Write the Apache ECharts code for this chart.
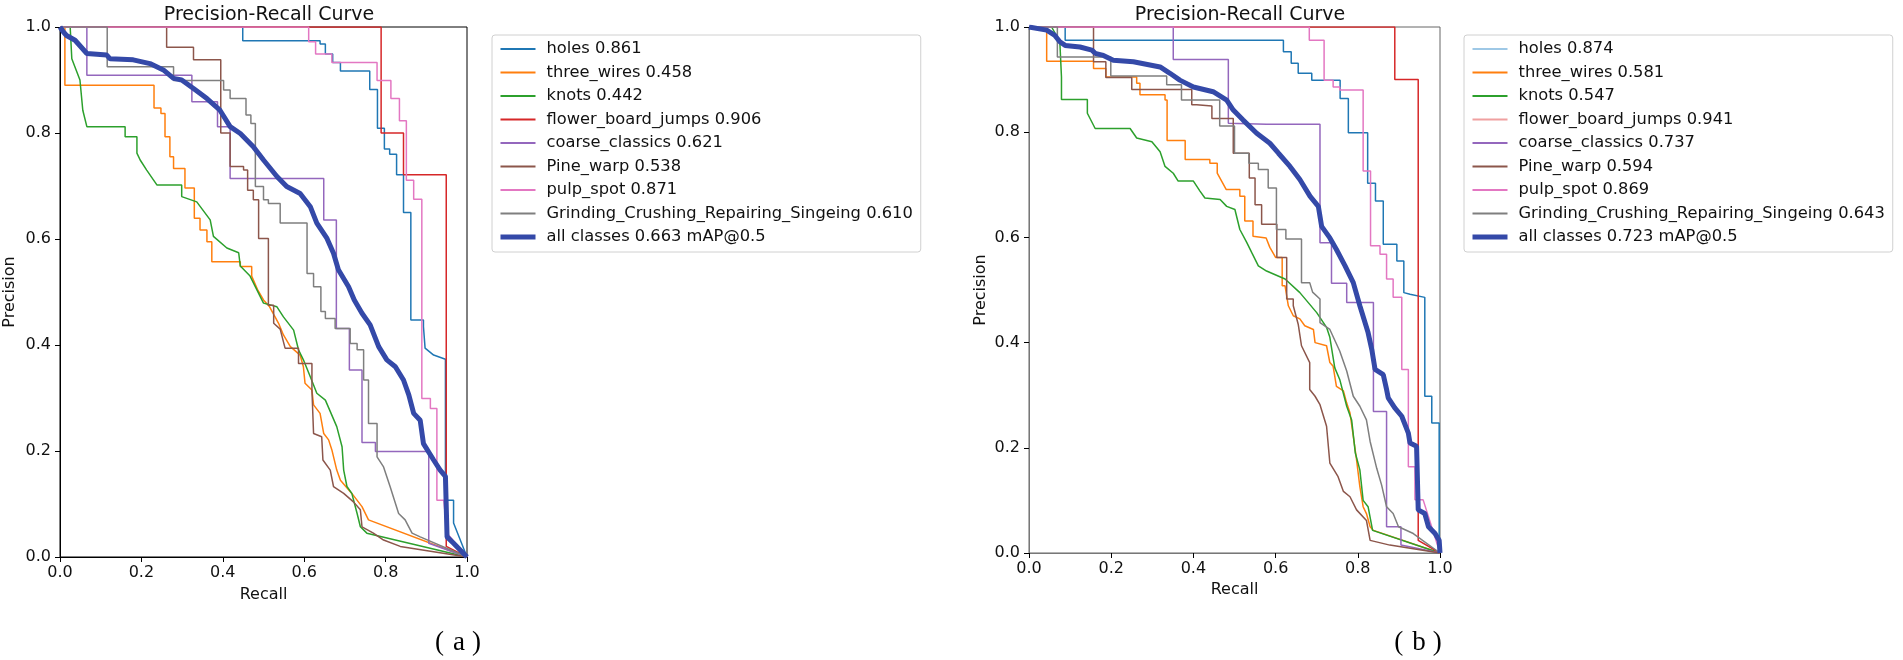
<!DOCTYPE html>
<html>
<head>
<meta charset="utf-8">
<title>Precision-Recall Curve</title>
<script src="https://cdn.jsdelivr.net/npm/echarts@6/dist/echarts.min.js"></script>
<style>
  html, body { margin: 0; padding: 0; background: #fff; }
  #main { width: 1903px; height: 660px; }
</style>
</head>
<body>
<div id="main"></div>
<script>
// class names / colours (matplotlib tab10)
const classNames = ['holes', 'three_wires', 'knots', 'flower_board_jumps', 'coarse_classics',
  'Pine_warp', 'pulp_spot', 'Grinding_Crushing_Repairing_Singeing'];
const classColors = ['#1f77b4', '#ff7f0e', '#2ca02c', '#d62728', '#9467bd', '#8c564b', '#e377c2', '#7f7f7f'];
const allColor = '#3449a8';

// AP per class, as printed in the legends
const apA = [0.861, 0.458, 0.442, 0.906, 0.621, 0.538, 0.871, 0.610];
const apB = [0.874, 0.581, 0.547, 0.941, 0.737, 0.594, 0.869, 0.643];
const mapA = 0.663;
const mapB = 0.723;

// ---- (a) curves: [recall, precision] ----
const holesA = [[0,1],[0.449,1],[0.449,0.974],[0.639,0.974],[0.639,0.968],[0.652,0.968],[0.652,0.949],[0.670,0.949],[0.670,0.933],[0.689,0.933],[0.689,0.917],[0.761,0.917],[0.761,0.882],[0.780,0.882],[0.780,0.809],[0.797,0.809],[0.797,0.770],[0.810,0.770],[0.810,0.760],[0.827,0.760],[0.827,0.721],[0.844,0.721],[0.844,0.650],[0.862,0.650],[0.862,0.447],[0.893,0.447],[0.893,0.435],[0.897,0.435],[0.897,0.394],[0.918,0.381],[0.947,0.373],[0.947,0.107],[0.967,0.107],[0.967,0.064],[1,0]];
const wiresA = [[0,1],[0.012,1],[0.012,0.890],[0.231,0.890],[0.231,0.847],[0.248,0.847],[0.248,0.837],[0.258,0.837],[0.258,0.793],[0.270,0.793],[0.270,0.755],[0.279,0.755],[0.279,0.733],[0.307,0.733],[0.307,0.696],[0.330,0.696],[0.330,0.639],[0.344,0.639],[0.344,0.617],[0.361,0.617],[0.361,0.595],[0.373,0.595],[0.373,0.557],[0.443,0.557],[0.443,0.548],[0.471,0.548],[0.471,0.530],[0.485,0.505],[0.5,0.485],[0.515,0.472],[0.537,0.441],[0.549,0.419],[0.566,0.397],[0.590,0.381],[0.598,0.359],[0.602,0.328],[0.619,0.315],[0.623,0.287],[0.639,0.271],[0.648,0.233],[0.660,0.221],[0.668,0.202],[0.680,0.164],[0.689,0.145],[0.717,0.120],[0.742,0.095],[0.758,0.070],[1,0]];
const knotsA = [[0,1],[0.025,1],[0.029,0.94],[0.049,0.90],[0.056,0.843],[0.066,0.812],[0.160,0.812],[0.160,0.793],[0.189,0.793],[0.189,0.762],[0.197,0.749],[0.213,0.730],[0.238,0.702],[0.299,0.702],[0.299,0.680],[0.336,0.670],[0.369,0.636],[0.377,0.605],[0.410,0.583],[0.439,0.574],[0.443,0.549],[0.467,0.530],[0.5,0.479],[0.533,0.472],[0.549,0.453],[0.574,0.428],[0.586,0.391],[0.598,0.372],[0.615,0.340],[0.631,0.309],[0.652,0.296],[0.680,0.246],[0.693,0.208],[0.697,0.164],[0.705,0.133],[0.717,0.120],[0.730,0.082],[0.738,0.057],[0.754,0.045],[1,0]];
const flowerA = [[0,1],[0.789,1],[0.789,0.80],[0.844,0.80],[0.844,0.721],[0.949,0.721],[0.949,0.02],[1,0]];
const coarseA = [[0,1],[0.066,1],[0.066,0.909],[0.324,0.909],[0.324,0.859],[0.387,0.859],[0.387,0.812],[0.418,0.812],[0.418,0.714],[0.648,0.714],[0.648,0.636],[0.679,0.636],[0.679,0.431],[0.711,0.431],[0.711,0.353],[0.742,0.353],[0.742,0.216],[0.775,0.216],[0.775,0.199],[0.906,0.199],[0.906,0.026],[1,0]];
const pineA = [[0,1],[0.262,1],[0.262,0.962],[0.328,0.962],[0.328,0.938],[0.395,0.938],[0.395,0.80],[0.418,0.80],[0.418,0.737],[0.451,0.737],[0.451,0.730],[0.461,0.730],[0.461,0.692],[0.475,0.692],[0.475,0.674],[0.488,0.674],[0.488,0.601],[0.512,0.601],[0.512,0.475],[0.525,0.475],[0.525,0.441],[0.541,0.430],[0.553,0.394],[0.586,0.394],[0.586,0.365],[0.619,0.365],[0.619,0.315],[0.623,0.233],[0.643,0.227],[0.646,0.183],[0.664,0.164],[0.672,0.133],[0.697,0.120],[0.721,0.104],[0.738,0.089],[0.742,0.057],[0.770,0.045],[0.795,0.032],[0.836,0.020],[1,0]];
const pulpA = [[0,1],[0.611,1],[0.611,0.972],[0.628,0.972],[0.628,0.949],[0.668,0.949],[0.668,0.933],[0.779,0.933],[0.779,0.899],[0.813,0.899],[0.813,0.865],[0.834,0.865],[0.834,0.823],[0.851,0.823],[0.851,0.711],[0.869,0.711],[0.869,0.675],[0.889,0.675],[0.889,0.299],[0.910,0.299],[0.910,0.280],[0.926,0.280],[0.926,0.107],[0.943,0.107],[0.951,0.045],[1,0]];
const grindA = [[0,1],[0.116,1],[0.116,0.925],[0.279,0.925],[0.279,0.899],[0.402,0.899],[0.402,0.881],[0.418,0.881],[0.418,0.865],[0.457,0.865],[0.457,0.834],[0.469,0.834],[0.469,0.818],[0.480,0.818],[0.480,0.699],[0.5,0.699],[0.5,0.674],[0.512,0.674],[0.512,0.667],[0.541,0.667],[0.541,0.630],[0.607,0.630],[0.607,0.535],[0.623,0.535],[0.623,0.510],[0.641,0.510],[0.641,0.463],[0.652,0.463],[0.652,0.450],[0.676,0.450],[0.676,0.431],[0.713,0.431],[0.713,0.403],[0.730,0.403],[0.730,0.391],[0.746,0.391],[0.746,0.334],[0.758,0.334],[0.758,0.252],[0.779,0.252],[0.779,0.189],[0.795,0.170],[0.811,0.133],[0.832,0.082],[0.848,0.070],[0.865,0.045],[0.885,0.038],[1,0]];
const allA = [[0,1],[0.008,0.991],[0.016,0.984],[0.037,0.975],[0.066,0.950],[0.115,0.947],[0.123,0.940],[0.180,0.938],[0.221,0.931],[0.254,0.919],[0.279,0.903],[0.299,0.900],[0.328,0.884],[0.361,0.865],[0.393,0.843],[0.418,0.812],[0.443,0.799],[0.475,0.774],[0.5,0.749],[0.533,0.718],[0.557,0.699],[0.590,0.686],[0.615,0.661],[0.631,0.630],[0.656,0.601],[0.672,0.573],[0.684,0.542],[0.709,0.510],[0.723,0.485],[0.742,0.460],[0.762,0.438],[0.783,0.397],[0.803,0.372],[0.824,0.359],[0.844,0.334],[0.857,0.306],[0.869,0.271],[0.885,0.258],[0.893,0.214],[0.918,0.183],[0.934,0.164],[0.947,0.152],[0.951,0.038],[0.967,0.026],[1,0]];

// ---- (b) curves ----
const holesB = [[0,1],[0.088,1],[0.088,0.975],[0.619,0.975],[0.619,0.953],[0.638,0.953],[0.638,0.931],[0.655,0.931],[0.655,0.912],[0.688,0.912],[0.688,0.899],[0.757,0.899],[0.757,0.864],[0.777,0.864],[0.777,0.799],[0.824,0.799],[0.824,0.703],[0.843,0.703],[0.843,0.669],[0.862,0.669],[0.862,0.587],[0.895,0.587],[0.895,0.555],[0.912,0.555],[0.912,0.495],[0.927,0.492],[0.963,0.486],[0.963,0.298],[0.980,0.298],[0.980,0.247],[0.998,0.247],[0.998,0]];
const wiresB = [[0,1],[0.043,1],[0.043,0.935],[0.157,0.935],[0.157,0.921],[0.187,0.921],[0.187,0.905],[0.262,0.905],[0.262,0.893],[0.270,0.893],[0.270,0.871],[0.331,0.871],[0.331,0.861],[0.336,0.861],[0.336,0.784],[0.380,0.784],[0.380,0.748],[0.440,0.748],[0.440,0.741],[0.458,0.741],[0.458,0.722],[0.480,0.691],[0.513,0.691],[0.513,0.678],[0.525,0.678],[0.525,0.631],[0.545,0.631],[0.545,0.602],[0.577,0.599],[0.586,0.581],[0.600,0.562],[0.616,0.562],[0.616,0.508],[0.623,0.508],[0.631,0.470],[0.643,0.451],[0.659,0.445],[0.671,0.432],[0.692,0.425],[0.696,0.400],[0.724,0.394],[0.732,0.362],[0.740,0.355],[0.748,0.317],[0.765,0.308],[0.773,0.285],[0.781,0.266],[0.789,0.222],[0.797,0.177],[0.805,0.126],[0.813,0.088],[0.821,0.075],[0.830,0.050],[0.838,0.043],[1,0]];
const knotsB = [[0,1],[0.055,1],[0.075,0.972],[0.079,0.905],[0.079,0.862],[0.142,0.862],[0.142,0.836],[0.161,0.807],[0.246,0.807],[0.262,0.789],[0.299,0.782],[0.319,0.763],[0.331,0.735],[0.351,0.722],[0.363,0.707],[0.400,0.707],[0.416,0.688],[0.428,0.675],[0.465,0.672],[0.481,0.659],[0.501,0.653],[0.513,0.615],[0.530,0.590],[0.542,0.571],[0.558,0.546],[0.578,0.536],[0.623,0.521],[0.659,0.495],[0.700,0.457],[0.724,0.429],[0.732,0.410],[0.744,0.352],[0.756,0.330],[0.773,0.279],[0.785,0.253],[0.794,0.190],[0.805,0.158],[0.813,0.100],[0.825,0.088],[0.836,0.043],[1,0]];
const flowerB = [[0,1],[0.890,1],[0.890,0.900],[0.947,0.900],[0.947,0.024],[1,0]];
const coarseB = [[0,1],[0.351,1],[0.351,0.938],[0.485,0.938],[0.485,0.817],[0.578,0.815],[0.708,0.815],[0.708,0.590],[0.736,0.590],[0.736,0.513],[0.773,0.513],[0.773,0.476],[0.838,0.476],[0.838,0.269],[0.870,0.269],[0.870,0.05],[0.905,0.05],[0.905,0.015],[1,0]];
const pineB = [[0,1],[0.157,1],[0.157,0.934],[0.187,0.934],[0.187,0.904],[0.250,0.904],[0.250,0.881],[0.396,0.881],[0.396,0.852],[0.408,0.852],[0.408,0.850],[0.445,0.850],[0.445,0.826],[0.497,0.826],[0.497,0.760],[0.536,0.760],[0.536,0.713],[0.550,0.713],[0.550,0.662],[0.566,0.662],[0.566,0.625],[0.603,0.625],[0.603,0.562],[0.627,0.562],[0.627,0.483],[0.643,0.483],[0.643,0.470],[0.655,0.435],[0.663,0.394],[0.683,0.362],[0.683,0.311],[0.696,0.298],[0.708,0.282],[0.724,0.241],[0.732,0.171],[0.752,0.145],[0.765,0.117],[0.781,0.107],[0.797,0.082],[0.821,0.062],[0.830,0.024],[0.878,0.015],[1,0]];
const pulpB = [[0,1],[0.682,1],[0.682,0.975],[0.718,0.975],[0.718,0.899],[0.740,0.899],[0.740,0.886],[0.756,0.886],[0.756,0.880],[0.813,0.880],[0.813,0.726],[0.831,0.726],[0.831,0.584],[0.854,0.584],[0.854,0.568],[0.870,0.568],[0.870,0.521],[0.886,0.521],[0.886,0.486],[0.907,0.486],[0.907,0.349],[0.923,0.349],[0.923,0.164],[0.939,0.164],[0.939,0.101],[0.959,0.101],[1,0]];
const grindB = [[0,1],[0.069,1],[0.069,0.943],[0.199,0.943],[0.199,0.907],[0.335,0.907],[0.335,0.890],[0.371,0.890],[0.371,0.861],[0.464,0.861],[0.464,0.812],[0.500,0.812],[0.500,0.760],[0.535,0.760],[0.535,0.741],[0.558,0.741],[0.558,0.729],[0.582,0.729],[0.582,0.694],[0.602,0.694],[0.602,0.615],[0.625,0.615],[0.625,0.597],[0.663,0.597],[0.663,0.514],[0.683,0.514],[0.690,0.496],[0.708,0.483],[0.708,0.438],[0.732,0.425],[0.756,0.384],[0.773,0.346],[0.789,0.298],[0.805,0.279],[0.821,0.253],[0.830,0.212],[0.846,0.161],[0.858,0.129],[0.870,0.088],[0.886,0.075],[0.899,0.050],[0.935,0.037],[1,0]];
const allB = [[0,1],[0.043,0.994],[0.063,0.984],[0.075,0.972],[0.088,0.965],[0.124,0.962],[0.153,0.956],[0.161,0.950],[0.181,0.946],[0.205,0.937],[0.254,0.934],[0.319,0.924],[0.343,0.912],[0.367,0.899],[0.400,0.886],[0.448,0.877],[0.481,0.861],[0.497,0.842],[0.521,0.823],[0.554,0.798],[0.586,0.779],[0.607,0.760],[0.635,0.735],[0.659,0.710],[0.684,0.678],[0.704,0.659],[0.712,0.621],[0.732,0.599],[0.748,0.577],[0.769,0.546],[0.789,0.514],[0.805,0.470],[0.825,0.419],[0.834,0.387],[0.842,0.349],[0.862,0.339],[0.870,0.311],[0.874,0.295],[0.890,0.276],[0.907,0.260],[0.923,0.228],[0.927,0.209],[0.943,0.203],[0.947,0.082],[0.963,0.075],[0.972,0.050],[0.988,0.037],[0.998,0.024],[1,0]];

const curvesA = [holesA, wiresA, knotsA, flowerA, coarseA, pineA, pulpA, grindA];
const curvesB = [holesB, wiresB, knotsB, flowerB, coarseB, pineB, pulpB, grindB];

const FONT = '"DejaVu Sans", sans-serif';

function namesFor(ap, map) {
  const n = classNames.map((c, i) => c + ' ' + ap[i].toFixed(3));
  n.push('all classes ' + map.toFixed(3) + ' mAP@0.5');
  return n;
}
const namesA = namesFor(apA, mapA);
const namesB = namesFor(apB, mapB);

function buildSeries(curves, all, names, idx) {
  const s = curves.map((d, i) => ({
    name: names[i], type: 'line', xAxisIndex: idx, yAxisIndex: idx,
    data: d, symbol: 'none', showSymbol: false,
    lineStyle: { width: 1.5, color: classColors[i] }, itemStyle: { color: classColors[i] }
  }));
  s.push({
    name: names[8], type: 'line', xAxisIndex: idx, yAxisIndex: idx,
    data: all, symbol: 'none', showSymbol: false, z: 5,
    lineStyle: { width: 5, color: allColor }, itemStyle: { color: allColor }
  });
  return s;
}

function axisPair(idx, nameGapX, nameGapY, lineColor) {
  const common = {
    type: 'value', min: 0, max: 1, interval: 0.2, gridIndex: idx,
    axisLine: { show: true, onZero: false, lineStyle: { color: lineColor, width: 1 } },
    axisTick: { show: true, inside: false, length: 5, lineStyle: { color: '#000' } },
    splitLine: { show: false },
    axisLabel: { fontSize: 16, fontFamily: FONT, color: '#111', formatter: v => v.toFixed(1) },
    nameLocation: 'middle',
    nameTextStyle: { fontSize: 16, fontFamily: FONT, color: '#111' }
  };
  return {
    x: Object.assign({}, common, { name: 'Recall', nameGap: nameGapX,
      axisLabel: Object.assign({}, common.axisLabel, { margin: 8 }) }),
    y: Object.assign({}, common, { name: 'Precision', nameGap: nameGapY,
      axisLabel: Object.assign({}, common.axisLabel, { margin: 9 }) })
  };
}
const axA = axisPair(0, 30, 42, '#000');
const axB = axisPair(1, 29, 40, '#777');

function legendFor(names, left, overrides) {
  return {
    orient: 'vertical', left: left, top: 35,
    data: names.map((n, i) => Object.assign({ name: n }, overrides[i] || {})),
    itemWidth: 35, itemHeight: 14, itemGap: 7.5,
    padding: [6, 8, 7, 6],
    borderColor: '#d0d0d0', borderWidth: 1, borderRadius: 3, backgroundColor: '#fff',
    itemStyle: { opacity: 0, borderWidth: 0 },
    textStyle: { fontSize: 16.3, fontFamily: FONT, color: '#111', lineHeight: 16, padding: [0, 0, 0, 6] },
    selectedMode: false
  };
}

const labelRich = {
  o: { fontFamily: '"Liberation Serif", serif', fontSize: 27, fill: '#000', padding: [0, 9, 0, 0] },
  l: { fontFamily: '"Liberation Serif", serif', fontSize: 27, fill: '#000' },
  c: { fontFamily: '"Liberation Serif", serif', fontSize: 27, fill: '#000', padding: [0, 0, 0, 7] }
};

const chart = echarts.init(document.getElementById('main'), null, { renderer: 'canvas' });
chart.setOption({
  animation: false,
  backgroundColor: '#fff',
  title: [
    { text: 'Precision-Recall Curve', left: 264, top: 1, textAlign: 'center',
      textStyle: { fontSize: 19, fontWeight: 'normal', fontFamily: FONT, color: '#111' } },
    { text: 'Precision-Recall Curve', left: 1235, top: 1, textAlign: 'center',
      textStyle: { fontSize: 19, fontWeight: 'normal', fontFamily: FONT, color: '#111' } }
  ],
  grid: [
    { left: 60, top: 27, width: 407, height: 530, show: true, borderColor: '#000', borderWidth: 1 },
    { left: 1029, top: 27, width: 411, height: 526, show: true, borderColor: '#666', borderWidth: 1 }
  ],
  xAxis: [axA.x, axB.x],
  yAxis: [axA.y, axB.y],
  legend: [
    legendFor(namesA, 492, { 8: { lineStyle: { width: 5 } } }),
    legendFor(namesB, 1464, { 0: { lineStyle: { color: '#9ec8e6' } }, 3: { lineStyle: { color: '#f0a0a0' } },
      8: { lineStyle: { width: 5 } } })
  ],
  graphic: [
    { type: 'text', x: 458, y: 643, style: { text: '{o|(}{l|a}{c|)}', rich: labelRich, align: 'center', verticalAlign: 'middle' } },
    { type: 'text', x: 1418, y: 643, style: { text: '{o|(}{l|b}{c|)}', rich: labelRich, align: 'center', verticalAlign: 'middle' } }
  ],
  series: buildSeries(curvesA, allA, namesA, 0).concat(buildSeries(curvesB, allB, namesB, 1))
});
</script>
</body>
</html>
